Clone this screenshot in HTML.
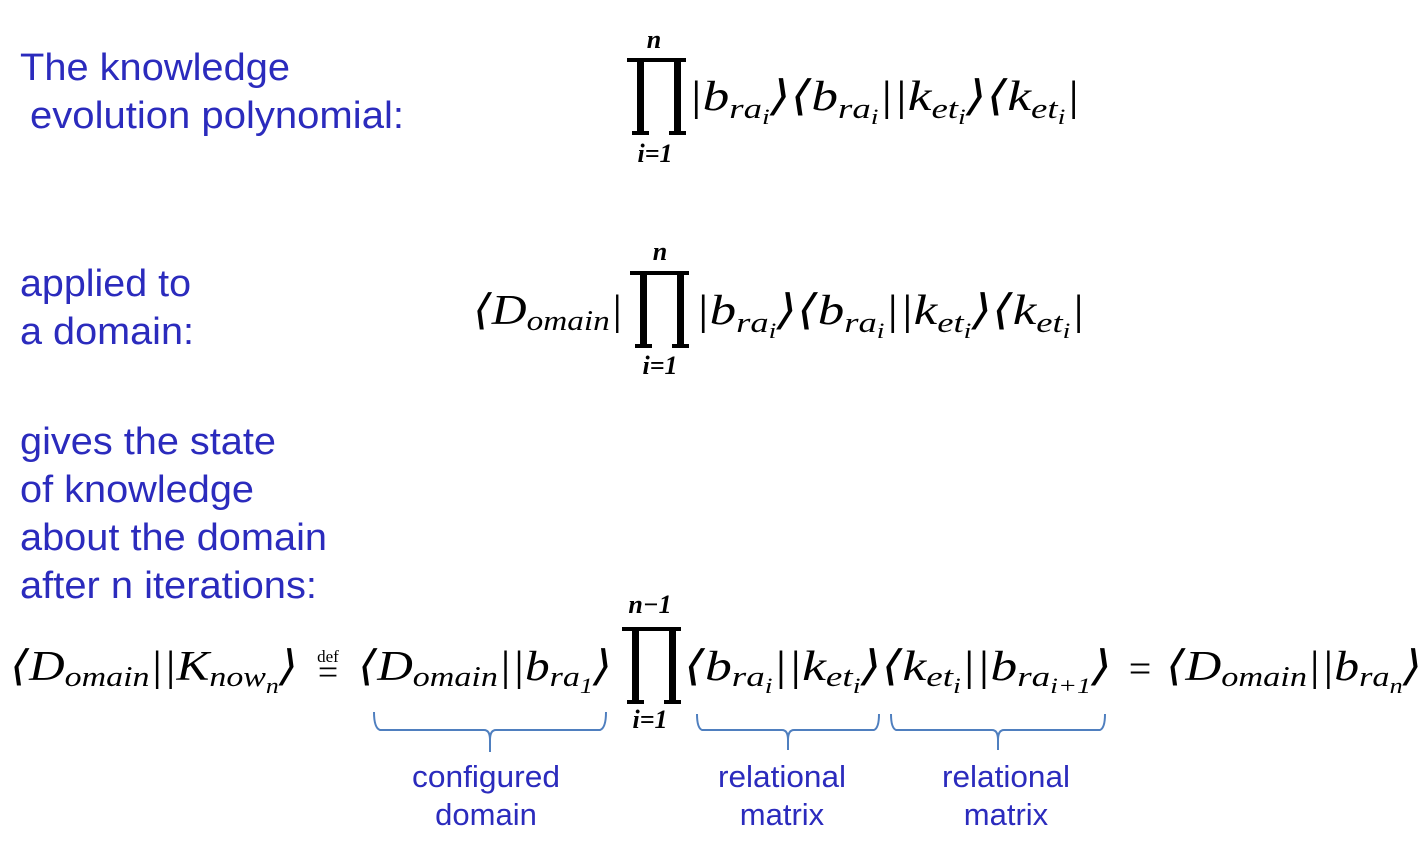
<!DOCTYPE html>
<html><head><meta charset="utf-8"><style>
html,body{margin:0;padding:0;background:#fff;}
svg{display:block}
.t{font-family:"Liberation Sans",sans-serif;fill:#2b2bbd;font-size:38px}
.l{font-family:"Liberation Sans",sans-serif;fill:#2b2bbd;font-size:31px;text-anchor:middle}
.m{font-family:"Liberation Serif","DejaVu Serif",serif;font-style:italic;font-size:42px;fill:#000}
.s{font-size:29px}
.ss{font-size:22px}
.lim{font-family:"Liberation Serif","DejaVu Serif",serif;font-style:italic;font-weight:bold;font-size:26px;text-anchor:middle}
.br{fill:none;stroke:#4f7fbf;stroke-width:2}
</style></head><body>
<svg width="1428" height="864" xmlns="http://www.w3.org/2000/svg">
<text class="t" x="20" y="80" textLength="270" lengthAdjust="spacingAndGlyphs">The knowledge</text>
<text class="t" x="30" y="128" textLength="374" lengthAdjust="spacingAndGlyphs">evolution polynomial:</text>
<text class="t" x="20" y="296" textLength="171" lengthAdjust="spacingAndGlyphs">applied to</text>
<text class="t" x="20" y="344" textLength="174" lengthAdjust="spacingAndGlyphs">a domain:</text>
<text class="t" x="20" y="454" textLength="256" lengthAdjust="spacingAndGlyphs">gives the state</text>
<text class="t" x="20" y="502" textLength="234" lengthAdjust="spacingAndGlyphs">of knowledge</text>
<text class="t" x="20" y="550" textLength="307" lengthAdjust="spacingAndGlyphs">about the domain</text>
<text class="t" x="20" y="598" textLength="297" lengthAdjust="spacingAndGlyphs">after n iterations:</text>

<g fill="#000">
<path d="M627 58h59v4h-5v69h5v4h-17v-4h5v-69h-30v69h5v4h-17v-4h5v-69h-10z"/>
<path d="M630 271h59v4h-5v69h5v4h-17v-4h5v-69h-30v69h5v4h-17v-4h5v-69h-10z"/>
<path d="M622 627h59v4h-5v69h5v4h-17v-4h5v-69h-30v69h5v4h-17v-4h5v-69h-10z"/>
</g>
<text class="lim" x="654" y="48">n</text>
<text class="lim" x="655" y="162">i=1</text>
<text class="lim" x="660" y="260">n</text>
<text class="lim" x="660" y="374">i=1</text>
<text class="lim" x="650" y="613">n−1</text>
<text class="lim" x="650" y="728">i=1</text>

<text class="m" x="688" y="110" textLength="392" lengthAdjust="spacingAndGlyphs">|b<tspan class="s" dy="8">ra</tspan><tspan class="ss" dy="6">i</tspan><tspan dy="-14">⟩⟨b</tspan><tspan class="s" dy="8">ra</tspan><tspan class="ss" dy="6">i</tspan><tspan dy="-14">||k</tspan><tspan class="s" dy="8">et</tspan><tspan class="ss" dy="6">i</tspan><tspan dy="-14">⟩⟨k</tspan><tspan class="s" dy="8">et</tspan><tspan class="ss" dy="6">i</tspan><tspan dy="-14">|</tspan></text>

<text class="m" x="473" y="324" textLength="150" lengthAdjust="spacingAndGlyphs">⟨D<tspan class="s" dy="6">omain</tspan><tspan dy="-6">|</tspan></text>
<text class="m" x="695" y="324" textLength="390" lengthAdjust="spacingAndGlyphs">|b<tspan class="s" dy="8">ra</tspan><tspan class="ss" dy="6">i</tspan><tspan dy="-14">⟩⟨b</tspan><tspan class="s" dy="8">ra</tspan><tspan class="ss" dy="6">i</tspan><tspan dy="-14">||k</tspan><tspan class="s" dy="8">et</tspan><tspan class="ss" dy="6">i</tspan><tspan dy="-14">⟩⟨k</tspan><tspan class="s" dy="8">et</tspan><tspan class="ss" dy="6">i</tspan><tspan dy="-14">|</tspan></text>

<text class="m" x="10" y="680" textLength="288" lengthAdjust="spacingAndGlyphs">⟨D<tspan class="s" dy="6">omain</tspan><tspan dy="-6">||K</tspan><tspan class="s" dy="6">now</tspan><tspan class="ss" dy="7">n</tspan><tspan dy="-13">⟩</tspan></text>
<text x="328" y="662" font-family="Liberation Serif,serif" font-size="17" text-anchor="middle">def</text>
<text x="328" y="684" font-family="Liberation Serif,serif" font-size="36" text-anchor="middle">=</text>
<text class="m" x="358" y="680" textLength="254" lengthAdjust="spacingAndGlyphs">⟨D<tspan class="s" dy="6">omain</tspan><tspan dy="-6">||b</tspan><tspan class="s" dy="6">ra</tspan><tspan class="ss" dy="7">1</tspan><tspan dy="-13">⟩</tspan></text>
<text class="m" x="684" y="680" textLength="428" lengthAdjust="spacingAndGlyphs">⟨b<tspan class="s" dy="6">ra</tspan><tspan class="ss" dy="7">i</tspan><tspan dy="-13">||k</tspan><tspan class="s" dy="6">et</tspan><tspan class="ss" dy="7">i</tspan><tspan dy="-13">⟩⟨k</tspan><tspan class="s" dy="6">et</tspan><tspan class="ss" dy="7">i</tspan><tspan dy="-13">||b</tspan><tspan class="s" dy="6">ra</tspan><tspan class="ss" dy="7">i+1</tspan><tspan dy="-13">⟩</tspan></text>
<text x="1140" y="682" font-family="Liberation Serif,serif" font-size="40" text-anchor="middle">=</text>
<text class="m" x="1166" y="680" textLength="256" lengthAdjust="spacingAndGlyphs">⟨D<tspan class="s" dy="6">omain</tspan><tspan dy="-6">||b</tspan><tspan class="s" dy="6">ra</tspan><tspan class="ss" dy="7">n</tspan><tspan dy="-13">⟩</tspan></text>

<path class="br" d="M374 712q0 16 6 18h104q6 0 6 10q0-10 6-10h104q6-2 6-18"/>
<path class="br" d="M697 714q0 14 5 16h80q6 0 6 10q0-10 6-10h80q5-2 5-16"/>
<path class="br" d="M891 714q0 14 5 16h96q6 0 6 10q0-10 6-10h96q5-2 5-16"/>
<line class="br" x1="490" y1="740" x2="490" y2="752"/>
<line class="br" x1="788" y1="740" x2="788" y2="750"/>
<line class="br" x1="998" y1="740" x2="998" y2="750"/>

<text class="l" x="486" y="787" textLength="148" lengthAdjust="spacingAndGlyphs">configured</text>
<text class="l" x="486" y="825">domain</text>
<text class="l" x="782" y="787" textLength="128" lengthAdjust="spacingAndGlyphs">relational</text>
<text class="l" x="782" y="825">matrix</text>
<text class="l" x="1006" y="787" textLength="128" lengthAdjust="spacingAndGlyphs">relational</text>
<text class="l" x="1006" y="825">matrix</text>
</svg>
</body></html>
